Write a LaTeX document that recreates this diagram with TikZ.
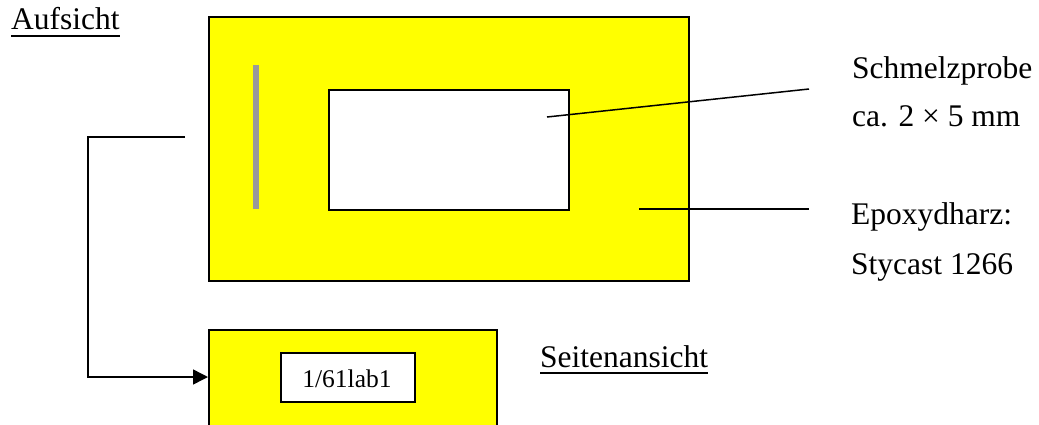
\documentclass[tikz,border=0pt]{standalone}
\usepackage{fontspec}
\setmainfont{Liberation Serif}
\usetikzlibrary{arrows.meta}
\definecolor{bargray}{RGB}{153,153,153}
\definecolor{epoxy}{RGB}{255,255,0}
\begin{document}
\begin{tikzpicture}[x=1pt,y=-1pt,
  box/.style={draw,line width=2pt,inner sep=0pt,anchor=north west},
  lbl/.style={anchor=base west,inner sep=0pt,font=\fontsize{31.5}{38}\selectfont},
  lead/.style={line width=1.5pt},
  uline/.style={line width=2pt}]
\useasboundingbox (0,0) rectangle (1039,424);
\begin{scope}
\clip (0,0) rectangle (1039,424);
% top view
\node[box,fill=epoxy,minimum width=480pt,minimum height=264pt] (top) at (208,16) {};
\node[box,fill=white,minimum width=240pt,minimum height=120pt] (sample) at (328,89) {};
\node[fill=bargray,inner sep=0pt,minimum width=6pt,minimum height=144pt,anchor=north west] (bar) at (253,65) {};
% side view
\node[box,fill=epoxy,minimum width=288pt,minimum height=110pt] (side) at (208,329) {};
\node[box,fill=white,minimum width=134pt,minimum height=49pt,anchor=north west] (tag) at (280,352) {};
\node[anchor=base,inner sep=0pt,font=\fontsize{25.5}{30}\selectfont] (tagtext) at (347,387) {1/61lab1};
\end{scope}
% labels
\node[lbl] (aufsicht) at (11,29) {Aufsicht};
\draw[uline] ([yshift=-7pt]aufsicht.base west) -- ([yshift=-7pt]aufsicht.base east);
\node[lbl] (seite) at (540,367) {Seitenansicht};
\draw[uline] ([yshift=-6pt]seite.base west) -- ([yshift=-6pt]seite.base east);
\node[lbl] (schmelz) at (852,78) {Schmelzprobe};
\node[lbl] (ca) at (852,126) {ca. 2 × 5 mm};
\node[lbl] (epoxy) at (851,224) {Epoxydharz:};
\node[lbl] (stycast) at (851,274) {Stycast 1266};
% leader lines
\coordinate (s1) at (547,117);
\coordinate (s2) at (809,89);
\draw[lead] (s1) -- (s2);
\coordinate (e1) at (639,209);
\coordinate (e2) at (809,209);
\draw[lead] (e1) -- (e2);
% connector
\coordinate (c1) at (185,137);
\coordinate (c2) at (88,137);
\draw[lead,-{Triangle[length=15pt,width=15pt]}] (c1) -- (c2) |- (side.west |- 0,377);
\end{tikzpicture}
\end{document}
